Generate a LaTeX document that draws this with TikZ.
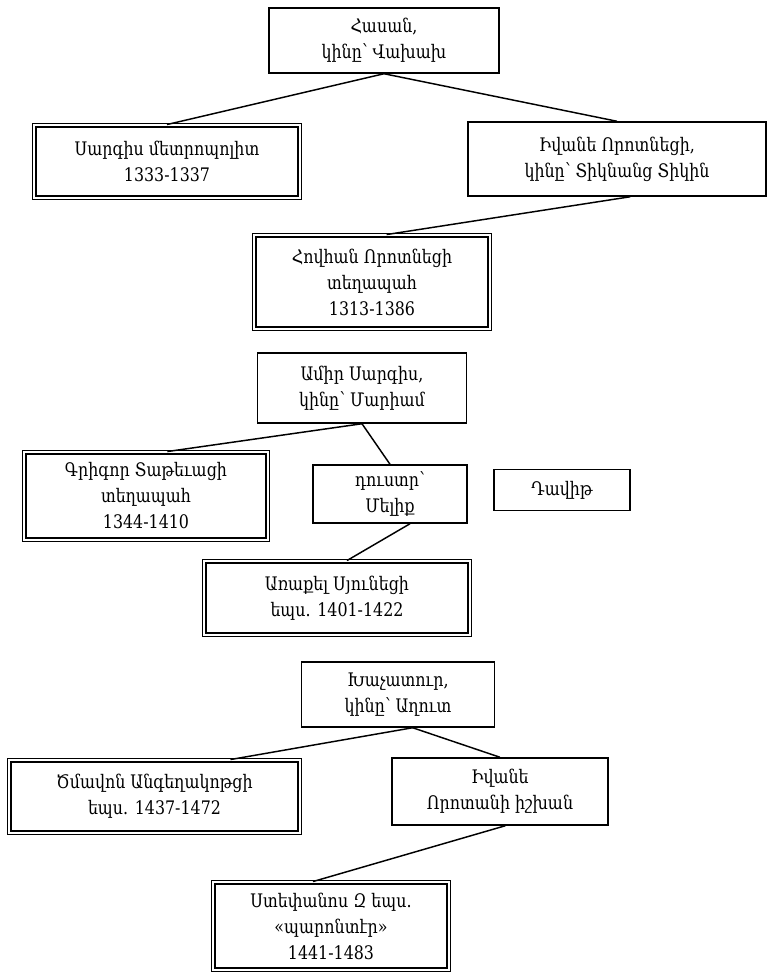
\documentclass[tikz,border=0pt]{standalone}
\usepackage{fontspec}
\setmainfont{DejaVu Serif}[FakeStretch=0.85]

\begin{document}
\begin{tikzpicture}[x=0.75pt,y=-0.75pt,line width=1.1pt,
		box/.style={draw,rectangle,align=center,inner sep=2pt,font=\fontsize{14}{19.5}\selectfont},
		dbox/.style={box,double,double distance=1.6pt}]
	\useasboundingbox (0,0) rectangle (769,975);
	\node[box,minimum width=172.5pt,minimum height=48.75pt] (hasan) at (384,40.5) {Հասան,\\կինը՝ Վախախ};
	\node[dbox,minimum width=199.1pt,minimum height=54.35pt] (sargis) at (167,161.5) {Սարգիս մետրոպոլիտ\\1333-1337};
	\node[box,minimum width=223.5pt,minimum height=55.5pt] (ivane) at (617,159) {Իվանե Որոտնեցի,\\կինը՝ Տիկնանց Տիկին};
	\node[dbox,minimum width=176.6pt,minimum height=70.1pt] (hovhan) at (372,282) {Հովհան Որոտնեցի\\տեղապահ\\1313-1386};
	\node[box,minimum width=156.75pt,minimum height=52.5pt] (amir) at (362,388) {Ամիր Սարգիս,\\կինը՝ Մարիամ};
	\node[dbox,minimum width=182.6pt,minimum height=65.6pt] (grigor) at (146,496) {Գրիգոր Տաթեւացի\\տեղապահ\\1344-1410};
	\node[box,minimum width=115.5pt,minimum height=43.5pt] (dustr) at (390,494) {դուստր՝\\Մելիք};
	\node[box,minimum width=102pt,minimum height=30.75pt] (davit) at (562,490) {Դավիթ};
	\node[dbox,minimum width=199.1pt,minimum height=55.1pt] (arakel) at (337,598) {Առաքել Սյունեցի\\եպս. 1401-1422};
	\node[box,minimum width=144.75pt,minimum height=48.75pt] (khach) at (398,694.5) {Խաչատուր,\\կինը՝ Աղուտ};
	\node[dbox,minimum width=217.85pt,minimum height=54.35pt] (zmavon) at (154.5,796.5) {Ծմավոն Անգեղակոթցի\\եպս. 1437-1472};
	\node[box,minimum width=162pt,minimum height=50.25pt] (ivaneb) at (500,791.5) {Իվանե\\Որոտանի իշխան};
	\node[dbox,minimum width=176.6pt,minimum height=65.6pt] (stepanos) at (331,926) {Ստեփանոս Զ եպս.\\«պարոնտէր»\\1441-1483};
	\draw (hasan.south)--(sargis.north);
	\draw (hasan.south)--(ivane.north);
	\draw ([xshift=10pt]ivane.south)--([xshift=11pt]hovhan.north);
	\draw (amir.south)--([xshift=16pt]grigor.north);
	\draw (amir.south)--(dustr.north);
	\draw ([xshift=15pt]dustr.south)--([xshift=7.5pt]arakel.north);
	\draw ([xshift=11pt]khach.south)--([xshift=57pt]zmavon.north);
	\draw ([xshift=11pt]khach.south)--(ivaneb.north);
	\draw ([xshift=4pt]ivaneb.south)--([xshift=-13.5pt]stepanos.north);
\end{tikzpicture}
\end{document}
